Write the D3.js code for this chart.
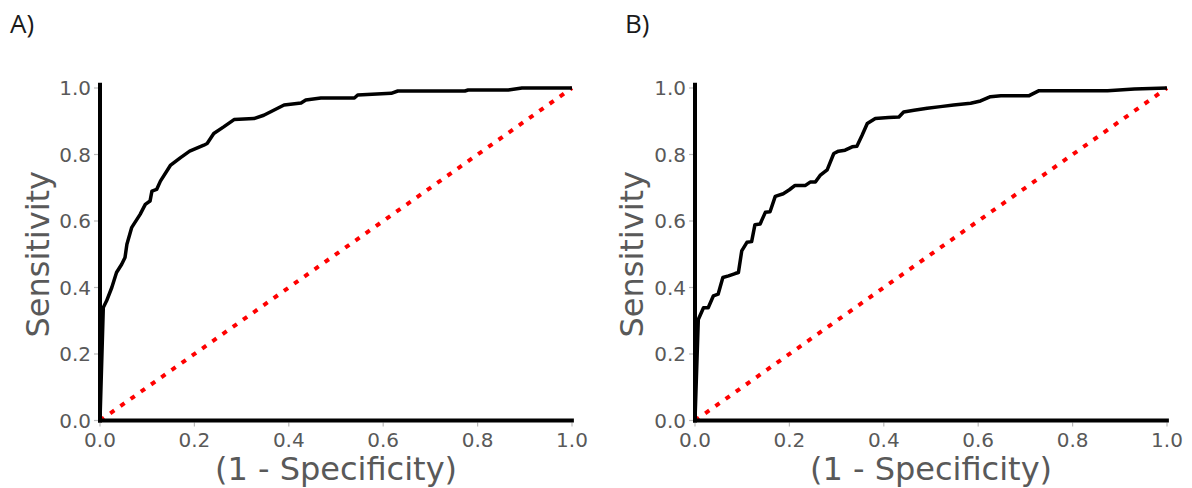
<!DOCTYPE html>
<html>
<head>
<meta charset="utf-8">
<script src="https://cdn.jsdelivr.net/npm/d3@7"></script>
<style>
  html, body { margin: 0; padding: 0; background: #fff; }
  svg { display: block; }
  .tick-label { font-family: 'DejaVu Sans', sans-serif; font-size: 20px; fill: #595959; }
  .axis-title { font-family: 'DejaVu Sans', sans-serif; font-size: 32px; fill: #595959; }
  .panel-label { font-family: 'Open Sans', sans-serif; font-size: 26px; fill: #1a1a1a; }
</style>
</head>
<body>
<div id="chart"></div>
<script>
// --- Data ---
const panelLabels = ['A)', 'B)'];
const tickValues = [0, 0.2, 0.4, 0.6, 0.8, 1.0];
const xTitle = '(1 - Specificity)';
const yTitle = 'Sensitivity';

// Panel A ROC curve
const fprA = [0, 0.007, 0.014, 0.025, 0.035, 0.046, 0.053, 0.057, 0.067, 0.085, 0.096, 0.106, 0.11, 0.12, 0.128, 0.149, 0.17, 0.19, 0.22, 0.227, 0.241, 0.262, 0.284, 0.326, 0.347, 0.368, 0.39, 0.426, 0.436, 0.468, 0.539, 0.546, 0.617, 0.631, 0.773, 0.78, 0.865, 0.894, 1.0];
const tprA = [0, 0.34, 0.36, 0.40, 0.445, 0.47, 0.49, 0.53, 0.58, 0.62, 0.65, 0.66, 0.69, 0.695, 0.72, 0.767, 0.79, 0.81, 0.828, 0.833, 0.863, 0.883, 0.905, 0.908, 0.918, 0.933, 0.949, 0.955, 0.964, 0.97, 0.97, 0.979, 0.984, 0.991, 0.991, 0.994, 0.994, 1.0, 1.0];

// Panel B ROC curve
const fprB = [0, 0.007, 0.018, 0.028, 0.039, 0.049, 0.059, 0.071, 0.085, 0.092, 0.099, 0.11, 0.12, 0.127, 0.138, 0.149, 0.159, 0.17, 0.187, 0.2, 0.212, 0.234, 0.244, 0.255, 0.265, 0.28, 0.294, 0.304, 0.318, 0.333, 0.343, 0.354, 0.365, 0.382, 0.41, 0.432, 0.442, 0.464, 0.492, 0.52, 0.548, 0.584, 0.605, 0.626, 0.648, 0.708, 0.729, 0.874, 0.931, 1.0];
const tprB = [0, 0.304, 0.339, 0.339, 0.375, 0.38, 0.43, 0.435, 0.442, 0.445, 0.51, 0.536, 0.538, 0.589, 0.591, 0.626, 0.628, 0.674, 0.682, 0.694, 0.707, 0.707, 0.717, 0.717, 0.737, 0.754, 0.803, 0.81, 0.813, 0.823, 0.825, 0.858, 0.893, 0.908, 0.911, 0.913, 0.928, 0.933, 0.939, 0.944, 0.949, 0.954, 0.961, 0.974, 0.977, 0.977, 0.992, 0.992, 0.997, 1.0];

// chance line
const chance = [0, 1];

// --- Layout ---
const width = 1192;
const height = 488;

const panels = [
  { label: panelLabels[0], fpr: fprA, tpr: tprA, x0: 100, x1: 572, labelX: 10, yTitleX: 38 },
  { label: panelLabels[1], fpr: fprB, tpr: tprB, x0: 695, x1: 1167, labelX: 625, yTitleX: 632 }
];

const svg = d3.select('#chart')
  .append('svg')
  .attr('width', width)
  .attr('height', height);

panels.forEach(p => {
  const x = d3.scaleLinear().domain([0, 1]).range([p.x0, p.x1]);
  const y = d3.scaleLinear().domain([0, 1]).range([420.5, 88]);
  const g = svg.append('g');

  // panel letter
  svg.append('text')
    .attr('class', 'panel-label')
    .attr('x', p.labelX)
    .attr('y', 33)
    .text(p.label);

  // tick marks (light gray, outward)
  g.selectAll('.xtick').data(tickValues).enter()
    .append('line')
    .attr('x1', d => x(d)).attr('x2', d => x(d))
    .attr('y1', y(0) + 2).attr('y2', y(0) + 6)
    .attr('stroke', '#bbb').attr('stroke-width', 1.2);

  g.selectAll('.ytick').data(tickValues).enter()
    .append('line')
    .attr('x1', x(0) - 2).attr('x2', x(0) - 6)
    .attr('y1', d => y(d)).attr('y2', d => y(d))
    .attr('stroke', '#bbb').attr('stroke-width', 1.2);

  // tick labels
  g.selectAll('.xlab').data(tickValues).enter()
    .append('text')
    .attr('class', 'tick-label')
    .attr('x', d => x(d))
    .attr('y', y(0) + 26)
    .attr('text-anchor', 'middle')
    .text(d3.format('.1f'));

  g.selectAll('.ylab').data(tickValues).enter()
    .append('text')
    .attr('class', 'tick-label')
    .attr('x', x(0) - 9)
    .attr('y', d => y(d))
    .attr('dy', '0.36em')
    .attr('text-anchor', 'end')
    .text(d3.format('.1f'));

  // chance diagonal
  g.append('path')
    .datum(chance)
    .attr('fill', 'none')
    .attr('stroke', '#ff0000')
    .attr('stroke-width', 4)
    .attr('stroke-dasharray', '5 7.5')
    .attr('d', d3.line().x(d => x(d)).y(d => y(d)));

  // ROC curve
  const pts = p.fpr.map((f, i) => [f, p.tpr[i]]);
  g.append('path')
    .datum(pts)
    .attr('fill', 'none')
    .attr('stroke', '#000')
    .attr('stroke-width', 3.5)
    .attr('stroke-linejoin', 'round')
    .attr('d', d3.line().x(d => x(d[0])).y(d => y(d[1])));

  // spines: left and bottom only
  g.append('line')
    .attr('x1', x(0)).attr('x2', x(0))
    .attr('y1', y(1.016)).attr('y2', y(0) + 2)
    .attr('stroke', '#000').attr('stroke-width', 4);
  g.append('line')
    .attr('x1', x(0) - 2).attr('x2', x(1.004))
    .attr('y1', y(0)).attr('y2', y(0))
    .attr('stroke', '#000').attr('stroke-width', 4);

  // axis titles
  g.append('text')
    .attr('class', 'axis-title')
    .attr('x', (p.x0 + p.x1) / 2)
    .attr('y', 480)
    .attr('text-anchor', 'middle')
    .text(xTitle);

  g.append('text')
    .attr('class', 'axis-title')
    .attr('transform', `translate(${p.yTitleX + 11},${(y(0) + y(1)) / 2}) rotate(-90)`)
    .attr('text-anchor', 'middle')
    .text(yTitle);
});
</script>
</body>
</html>
